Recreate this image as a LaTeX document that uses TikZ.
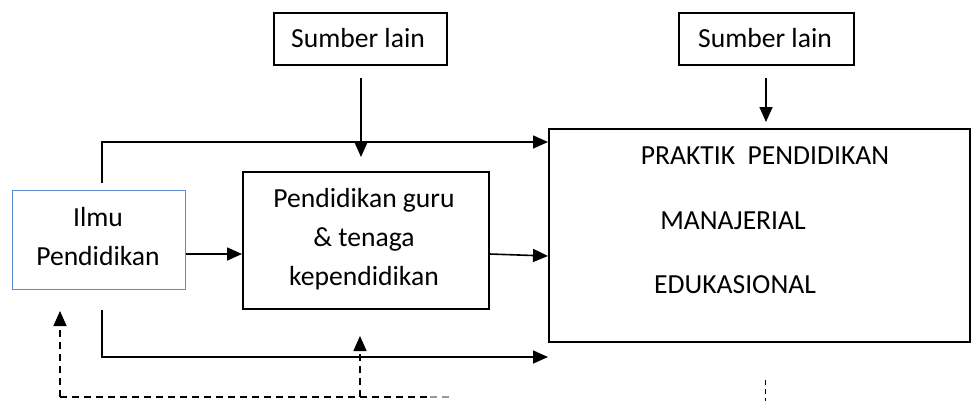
\documentclass[tikz,border=0pt]{standalone}
\usepackage{fontspec}
\setmainfont{Carlito}
\usetikzlibrary{arrows.meta}
\definecolor{ilmublue}{HTML}{5B8BD0}
\tikzset{
  box/.style={draw=black, line width=1.6pt, inner sep=0pt, anchor=north west},
  txt/.style={anchor=base, inner sep=0pt, font=\fontsize{27.6pt}{39pt}\selectfont},
  conn/.style={line width=1.6pt, -{Triangle[length=15pt,width=13pt]}},
  dconn/.style={line width=1.5pt, dash pattern=on 7pt off 5pt, -{Triangle[length=15pt,width=13pt]}},
  dline/.style={line width=1.5pt, dash pattern=on 7pt off 5pt},
}
\begin{document}
\begin{tikzpicture}[x=1pt,y=-1pt]
\useasboundingbox (0,0) rectangle (971,400);
% boxes
\node[box, minimum width=173pt, minimum height=52pt] (s1) at (273,12) {};
\node[box, minimum width=175pt, minimum height=52pt] (s2) at (678,12) {};
\node[box, draw=ilmublue, line width=0.9pt, minimum width=173pt, minimum height=99pt] (ilmu) at (12,190) {};
\node[box, minimum width=246pt, minimum height=137pt] (pg) at (242,171) {};
\node[box, minimum width=421pt, minimum height=213pt] (pr) at (548,128) {};
% texts
\node[txt] (t1) at (358,47) {Sumber lain};
\node[txt] (t2) at (765,47) {Sumber lain};
\node[txt] (t3) at (98,226) {Ilmu};
\node[txt] (t4) at (98,265) {Pendidikan};
\node[txt] (t5) at (364,207) {Pendidikan guru};
\node[txt] (t6) at (364,246) {\&\ tenaga};
\node[txt] (t7) at (364,285) {kependidikan};
\node[txt] (t8) at (765,164) {PRAKTIK\ \ PENDIDIKAN};
\node[txt] (t9) at (733,229) {MANAJERIAL};
\node[txt] (t10) at (735,293) {EDUKASIONAL};
% coordinates
\coordinate (a1) at (361,78);
\coordinate (a1e) at (361,157);
\coordinate (a2) at (766,78);
\coordinate (a2e) at (766,122);
\coordinate (top0) at (102,183);
\coordinate (top1) at (102,142);
\coordinate (bot0) at (102,310);
\coordinate (bot1) at (102,357);
\coordinate (d0) at (60,397);
\coordinate (d0e) at (60,311);
\coordinate (d1) at (360,397);
\coordinate (d1e) at (360,336);
\coordinate (d2) at (430,397);
\coordinate (d3) at (452,397);
\coordinate (e0) at (765,380);
\coordinate (e1) at (765,402);
% connectors
\draw[conn] (a1) -- (a1e);
\draw[conn] (a2) -- (a2e);
\draw[conn] (top0) -- (top1) -- (pr.west |- top1);
\draw[conn] (bot0) -- (bot1) -- (pr.west |- bot1);
\draw[conn] (ilmu.east |- 0,254) -- (pg.west |- 0,254);
\draw[conn] (pg.east |- 0,254) -- (pr.west |- 0,256);
\draw[dconn] (d0) -- (d0e);
\draw[dline] (d0) -- (d2);
\draw[dline, black!40] (d2) -- (d3);
\draw[dconn] (d1) -- (d1e);
\draw[line width=1pt, dash pattern=on 5pt off 4pt] (e0) -- (e1);
\end{tikzpicture}
\end{document}
